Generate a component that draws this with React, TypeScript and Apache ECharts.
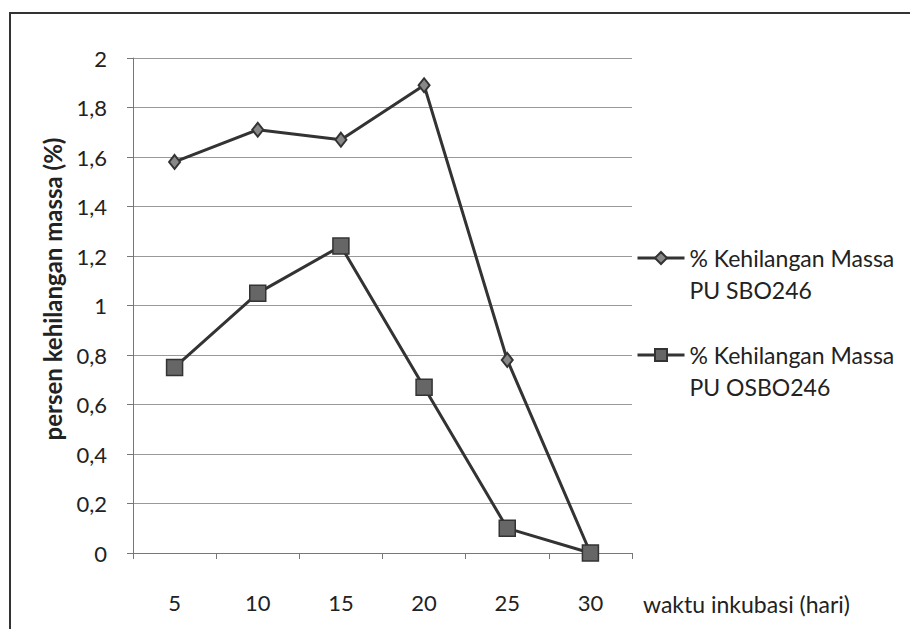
import React, { useEffect, useRef } from "react";
import * as echarts from "echarts";

const categories = ["5", "10", "15", "20", "25", "30"];
const seriesSBO = [1.58, 1.71, 1.67, 1.89, 0.78, 0];
const seriesOSBO = [0.75, 1.05, 1.24, 0.67, 0.1, 0];
const seriesNames = ["% Kehilangan Massa\nPU SBO246", "% Kehilangan Massa\nPU OSBO246"];
const yAxisTitle = "persen kehilangan massa (%)";
const xAxisTitle = "waktu inkubasi (hari)";

const FONT = "Lato, 'Open Sans', sans-serif";

export default function App() {
  const ref = useRef<HTMLDivElement>(null);
  useEffect(() => {
    if (!ref.current) return;
    const chart = echarts.init(ref.current, undefined, { renderer: "svg" });
    chart.setOption({
      animation: false,
      backgroundColor: "#ffffff",
      textStyle: { fontFamily: FONT },
      grid: { left: 133, top: 58, right: 278, bottom: 76 },
      graphic: [
        {
          type: "rect",
          shape: { x: 10, y: 13, width: 920, height: 640 },
          style: { fill: "none", stroke: "#333", lineWidth: 2 },
          silent: true,
        },
        {
          type: "text",
          x: 643,
          y: 604,
          style: {
            text: xAxisTitle,
            fontSize: 23,
            fontFamily: FONT,
            fill: "#222",
            verticalAlign: "middle",
            align: "left",
          },
        },
        {
          type: "text",
          x: 52,
          y: 289,
          rotation: Math.PI / 2,
          style: {
            text: yAxisTitle,
            fontSize: 24,
            fontWeight: "bold",
            fontFamily: FONT,
            fill: "#222",
            verticalAlign: "middle",
            align: "center",
          },
        },
      ],
      legend: {
        orient: "vertical",
        left: 636,
        top: 210,
        padding: 0,
        itemWidth: 47,
        itemHeight: 15,
        itemGap: 1,
        lineStyle: { width: 3, color: "#333" },
        formatter: (name: string) => "\n" + name,
        textStyle: {
          fontSize: 23,
          color: "#222",
          fontFamily: FONT,
          lineHeight: 32,
        },
        data: seriesNames,
      },
      xAxis: {
        type: "category",
        data: categories,
        boundaryGap: true,
        axisLine: { lineStyle: { color: "#777", width: 1 } },
        axisTick: { show: true, length: 6, lineStyle: { color: "#777" } },
        axisLabel: { margin: 38, fontSize: 22, color: "#222", fontFamily: FONT },
        splitLine: { show: false },
      },
      yAxis: {
        type: "value",
        min: 0,
        max: 2,
        interval: 0.2,
        axisLine: { show: true, lineStyle: { color: "#777", width: 1 } },
        axisTick: { show: true, length: 6, lineStyle: { color: "#777" } },
        axisLabel: {
          margin: 26,
          fontSize: 22,
          color: "#222",
          fontFamily: FONT,
          formatter: (v: number) => String(Math.round(v * 10) / 10).replace(".", ","),
        },
        splitLine: { show: true, lineStyle: { color: "#999", width: 1 } },
      },
      series: [
        {
          name: seriesNames[0],
          type: "line",
          data: seriesSBO,
          symbol: "diamond",
          symbolSize: [11, 14],
          lineStyle: { color: "#333", width: 3 },
          itemStyle: { color: "#888", borderColor: "#333", borderWidth: 2 },
        },
        {
          name: seriesNames[1],
          type: "line",
          data: seriesOSBO,
          symbol: "rect",
          symbolSize: 16,
          lineStyle: { color: "#333", width: 3 },
          itemStyle: { color: "#666", borderColor: "#333", borderWidth: 1.5 },
        },
      ],
    });
    return () => chart.dispose();
  }, []);
  return (
    <div
      ref={ref}
      style={{ position: "fixed", left: 0, top: 0, width: 910, height: 629 }}
    />
  );
}
